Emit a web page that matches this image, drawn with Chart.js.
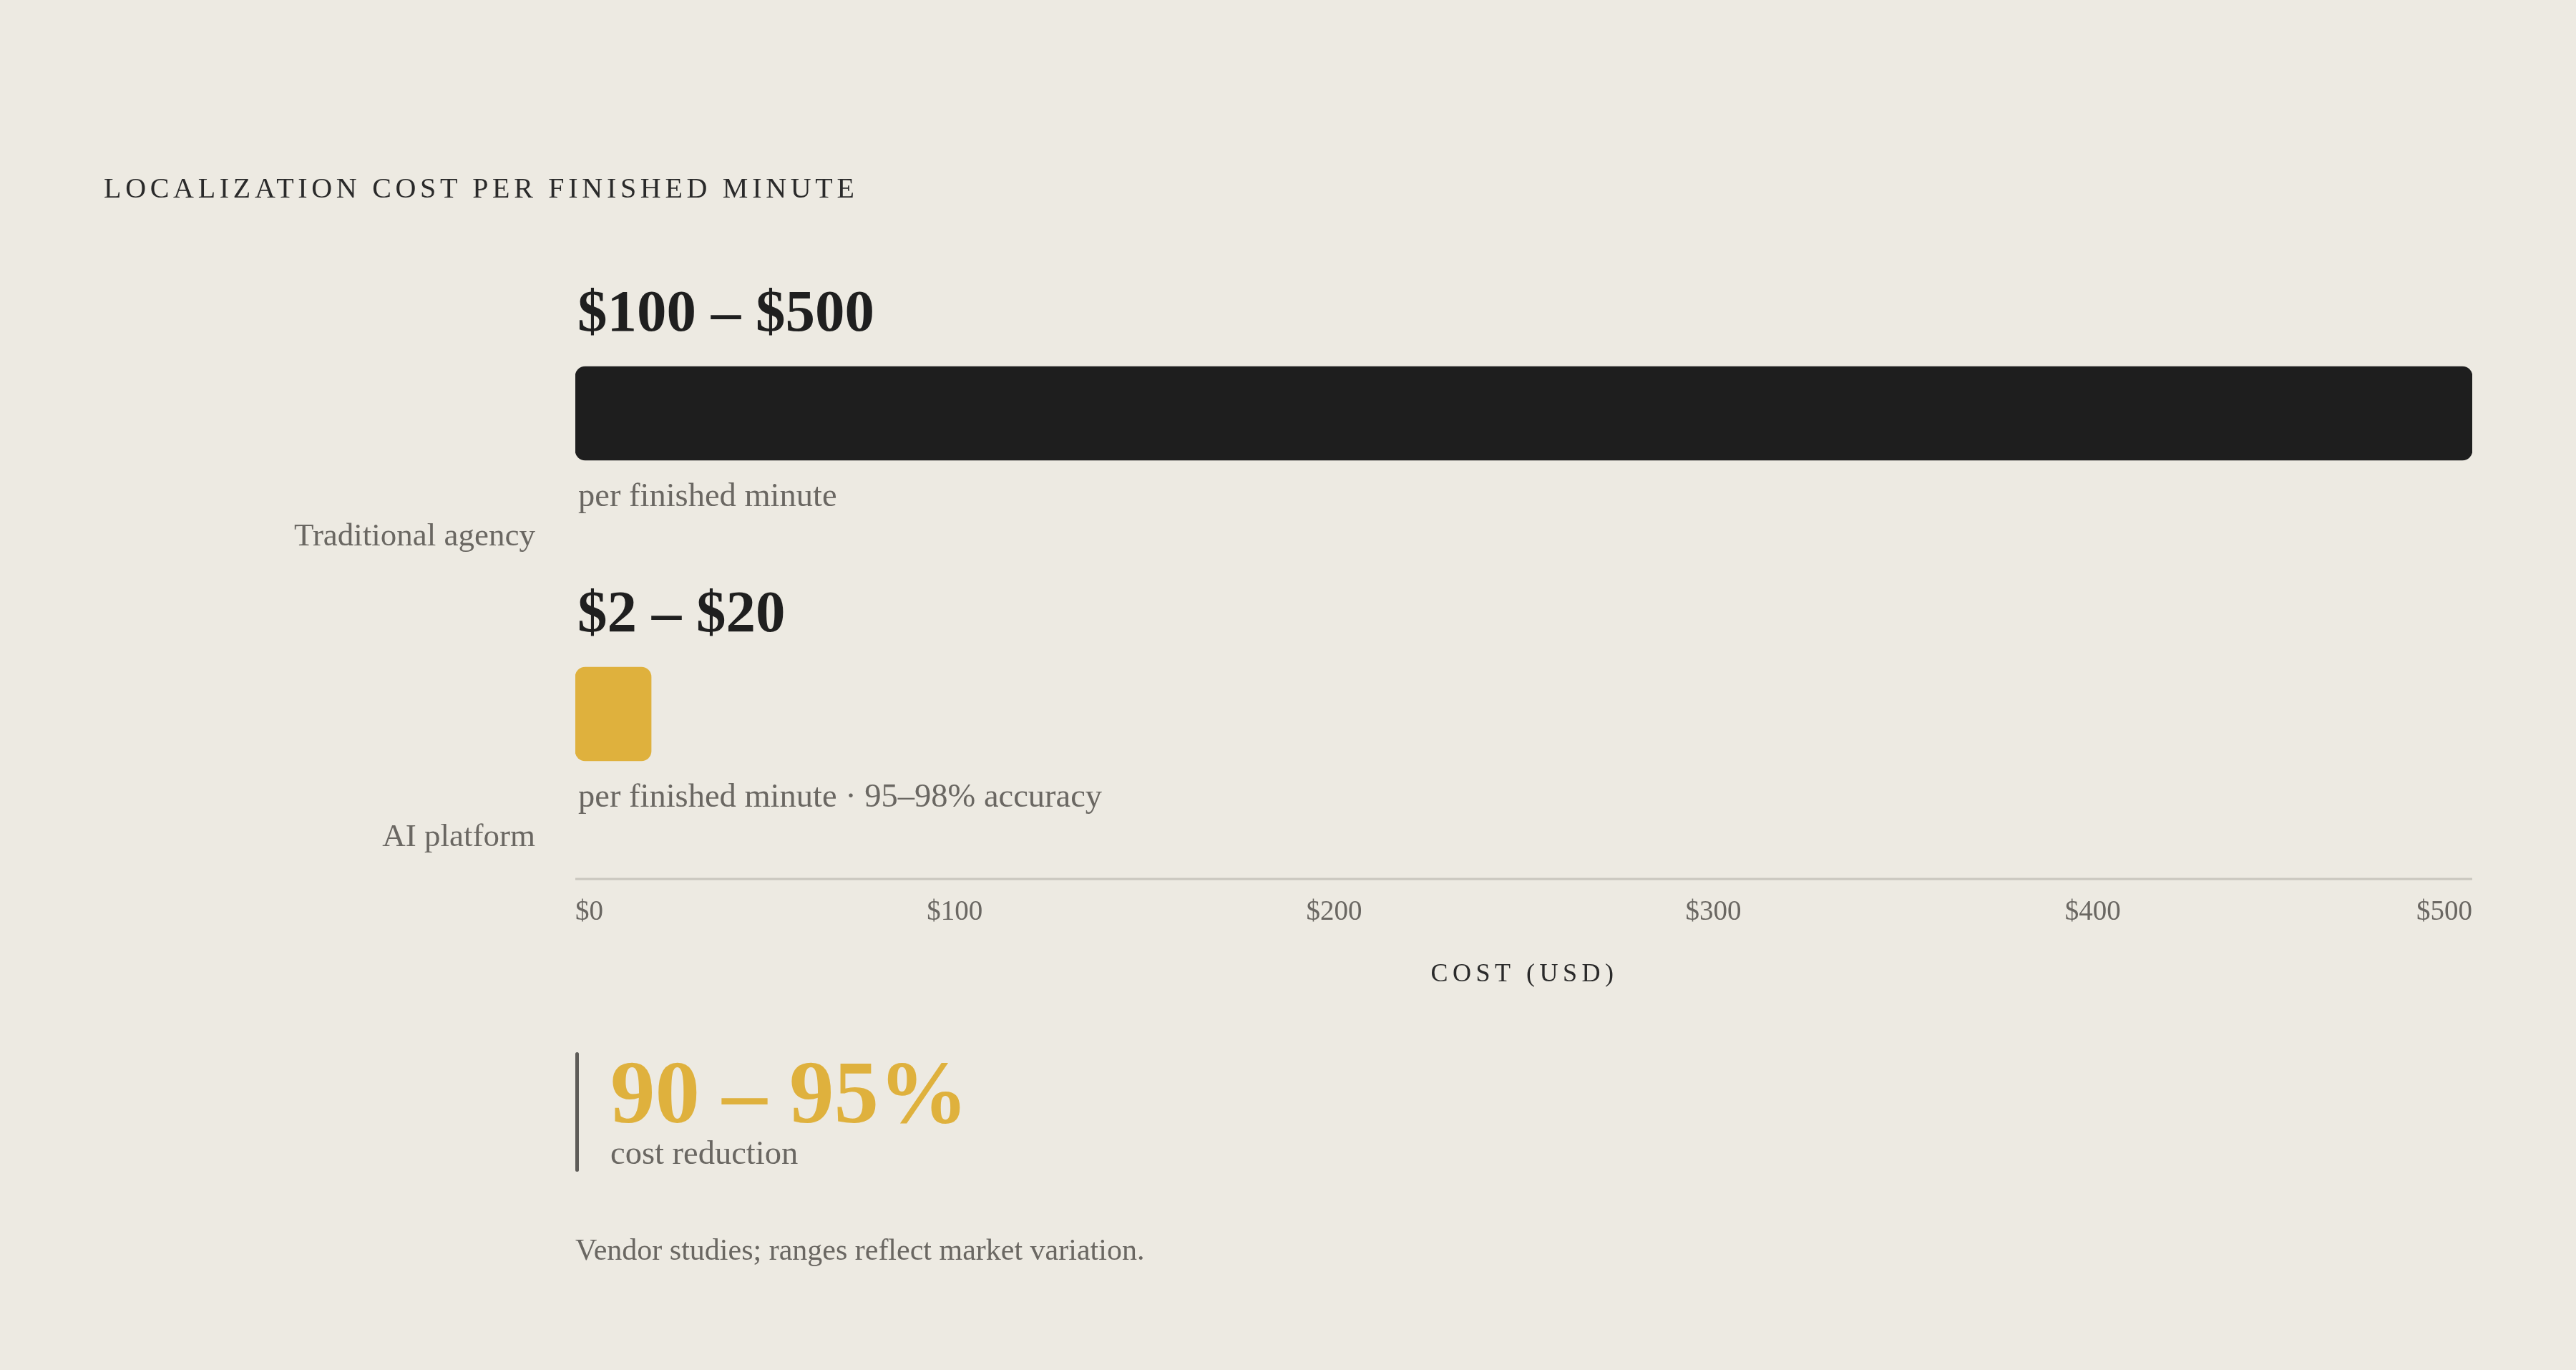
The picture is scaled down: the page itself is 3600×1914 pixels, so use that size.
<!DOCTYPE html>
<html>
<head>
<meta charset="utf-8">
<script src="https://cdn.jsdelivr.net/npm/chart.js@4.4.1/dist/chart.umd.min.js"></script>
<style>
  html, body { margin: 0; padding: 0; background: #EDEAE2; }
  body { width: 3600px; height: 1914px; position: relative; overflow: hidden; font-family: 'Liberation Serif', serif; }
  #c { position: absolute; left: 0; top: 0; }
  .txt { position: absolute; white-space: nowrap; line-height: 1; }
  #title { left: 145px; top: 243px; font-size: 40px; letter-spacing: 5.7px; color: #2a2a2a; }
  #sumbar { position: absolute; left: 804px; top: 1470px; width: 5px; height: 167px; border-radius: 3px; background: #5e5c58; }
  #sumval { left: 853px; top: 1464px; font-size: 125px; font-weight: bold; color: #DFB13D; }
  #sumlbl { left: 853px; top: 1588px; font-size: 46.5px; color: #6a6762; }
  #note { left: 804px; top: 1725px; font-size: 42px; color: #6a6762; }
</style>
</head>
<body>
<canvas id="c" width="3600" height="1914"></canvas>
<div class="txt" id="title"></div>
<div id="sumbar"></div>
<div class="txt" id="sumval"></div>
<div class="txt" id="sumlbl"></div>
<div class="txt" id="note"></div>
<script>
// ---- data ----
const chartTitle = 'LOCALIZATION COST PER FINISHED MINUTE';
const categories = ['Traditional agency', 'AI platform'];
const rangeLow = [100, 2];
const rangeHigh = [500, 20];
const subLabels = ['per finished minute', 'per finished minute · 95–98% accuracy'];
const xTicks = [0, 100, 200, 300, 400, 500];
const axisTitle = 'COST (USD)';
const reduction = [90, 95];
const reductionLabel = 'cost reduction';
const sourceNote = 'Vendor studies; ranges reflect market variation.';

// ---- styles ----
const FONT = "'Liberation Serif', serif";
const barColors = ['#1E1E1E', '#DFB13D'];
const greyText = '#6a6762';
const darkText = '#1f1f1f';

document.getElementById('title').textContent = chartTitle;
document.getElementById('sumval').textContent = reduction[0] + ' – ' + reduction[1] + '%';
document.getElementById('sumlbl').textContent = reductionLabel;
document.getElementById('note').textContent = sourceNote;

const annotate = {
  id: 'annotate',
  afterDatasetsDraw(chart) {
    const ctx = chart.ctx;
    const meta = chart.getDatasetMeta(0);
    const area = chart.chartArea;
    ctx.save();
    meta.data.forEach((bar, i) => {
      const top = bar.y - bar.height / 2;
      const bottom = bar.y + bar.height / 2;
      ctx.textAlign = 'left';
      ctx.textBaseline = 'alphabetic';
      ctx.fillStyle = darkText;
      ctx.font = 'bold 83px ' + FONT;
      ctx.fillText('$' + rangeLow[i] + ' – $' + rangeHigh[i], area.left + 3, top - 50);
      ctx.fillStyle = greyText;
      ctx.font = '46.5px ' + FONT;
      ctx.fillText(subLabels[i], area.left + 4, bottom + 64);
    });
    // axis line
    ctx.strokeStyle = '#c9c6be';
    ctx.lineWidth = 3;
    ctx.beginPath();
    ctx.moveTo(area.left, area.bottom + 20.5);
    ctx.lineTo(area.right, area.bottom + 20.5);
    ctx.stroke();
    // axis title
    ctx.font = '36px ' + FONT;
    ctx.fillStyle = '#2a2a2a';
    ctx.letterSpacing = '6.5px';
    ctx.textAlign = 'center';
    ctx.fillText(axisTitle, (area.left + area.right) / 2 + 1, 1371);
    ctx.restore();
  }
};

new Chart(document.getElementById('c'), {
  type: 'bar',
  data: {
    labels: categories,
    datasets: [{
      data: rangeHigh,
      backgroundColor: barColors,
      borderRadius: 14,
      borderSkipped: false,
      barThickness: 131
    }]
  },
  options: {
    indexAxis: 'y',
    responsive: false,
    animation: false,
    devicePixelRatio: 1,
    layout: { padding: { top: 367.5, bottom: 606.5, left: 0, right: 145 } },
    plugins: { legend: { display: false }, tooltip: { enabled: false } },
    scales: {
      x: {
        min: 0, max: 500,
        afterBuildTicks: s => { s.ticks = xTicks.map(v => ({ value: v })); },
        afterFit: s => { s.height = 100; },
        grid: { display: false, drawTicks: false },
        border: { display: false },
        ticks: {
          align: 'inner',
          padding: 44,
          color: greyText,
          font: { family: FONT, size: 39 },
          callback: v => '$' + v
        }
      },
      y: {
        afterFit: s => { s.width = 804; },
        grid: { display: false, drawTicks: false },
        border: { display: false },
        ticks: {
          labelOffset: 173,
          padding: 56,
          color: greyText,
          font: { family: FONT, size: 45 }
        }
      }
    }
  },
  plugins: [annotate]
});
</script>
</body>
</html>
